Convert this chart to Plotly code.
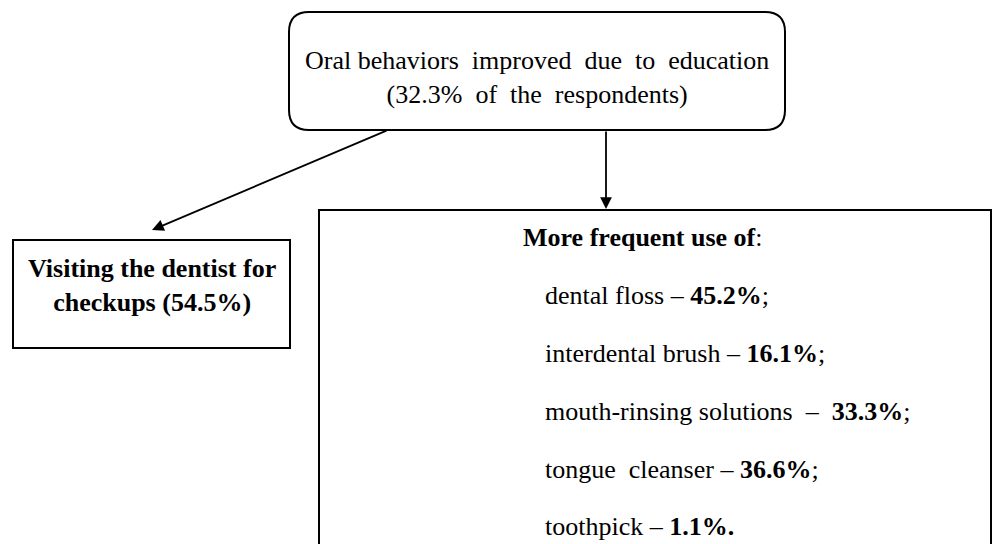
import plotly.graph_objects as go

# ---- data ----
items = ["dental floss", "interdental brush", "mouth-rinsing solutions", "tongue  cleanser", "toothpick"]
dash_gaps = [" ", " ", "  ", " ", " "]
values = [45.2, 16.1, 33.3, 36.6, 1.1]
respondents_pct = 32.3
checkup_pct = 54.5

W, H = 994, 544
FONT = "Liberation Serif"

fig = go.Figure()
fig.update_layout(
    width=W, height=H, margin=dict(l=0, r=0, t=0, b=0),
    paper_bgcolor="white", plot_bgcolor="white", showlegend=False,
    xaxis=dict(range=[0, W], visible=False, fixedrange=True),
    yaxis=dict(range=[H, 0], visible=False, fixedrange=True),
)

# rounded top box
x0, x1, y0, y1, r = 289, 785, 12, 130, 20
path = (f"M {x0+r},{y0} L {x1-r},{y0} Q {x1},{y0} {x1},{y0+r} "
        f"L {x1},{y1-r} Q {x1},{y1} {x1-r},{y1} L {x0+r},{y1} "
        f"Q {x0},{y1} {x0},{y1-r} L {x0},{y0+r} Q {x0},{y0} {x0+r},{y0} Z")
fig.add_shape(type="path", path=path, line=dict(color="black", width=2), xref="x", yref="y")

# left box
fig.add_shape(type="rect", x0=13, x1=290, y0=240, y1=348, line=dict(color="black", width=2))
# right box (extends past bottom)
fig.add_shape(type="rect", x0=319, x1=991, y0=210, y1=580, line=dict(color="black", width=2))

# arrows
fig.add_annotation(x=606, y=209, ax=606, ay=130, xref="x", yref="y", axref="x", ayref="y",
                   text="", showarrow=True, arrowhead=2, arrowsize=1.3, arrowwidth=1.8, arrowcolor="black")
fig.add_annotation(x=152, y=230, ax=388, ay=130, xref="x", yref="y", axref="x", ayref="y",
                   text="", showarrow=True, arrowhead=2, arrowsize=1.3, arrowwidth=1.8, arrowcolor="black")

# top text
fig.add_annotation(x=537, y=77, xref="x", yref="y", showarrow=False,
                   text=f"Oral behaviors  improved  due  to  education<br>({respondents_pct}%  of  the  respondents)",
                   font=dict(family=FONT, size=26, color="black"), align="center", yanchor="middle")

# left box text
fig.add_annotation(x=152, y=285, xref="x", yref="y", showarrow=False,
                   text=f"<b>Visiting the dentist for<br>checkups ({checkup_pct}%)</b>",
                   font=dict(family=FONT, size=26, color="black"), align="center", yanchor="middle")

# right box title
fig.add_annotation(x=521, y=237, xref="x", yref="y", showarrow=False,
                   text="<b>More frequent use of</b>:",
                   font=dict(family=FONT, size=26, color="black"), xanchor="left", yanchor="middle")

ys = [295, 353, 411, 469, 526]
for i, (name, gap, v) in enumerate(zip(items, dash_gaps, values)):
    last = i == len(items) - 1
    txt = f"{name}{gap}–{gap}<b>{v}%.</b>" if last else f"{name}{gap}–{gap}<b>{v}%</b>;"
    fig.add_annotation(x=543, y=ys[i], xref="x", yref="y", showarrow=False, text=txt,
                       font=dict(family=FONT, size=26, color="black"),
                       xanchor="left", yanchor="middle")

fig.write_html("out.html", config={"displayModeBar": False},
               post_script="document.body.style.margin='0';document.body.style.overflow='hidden';")
